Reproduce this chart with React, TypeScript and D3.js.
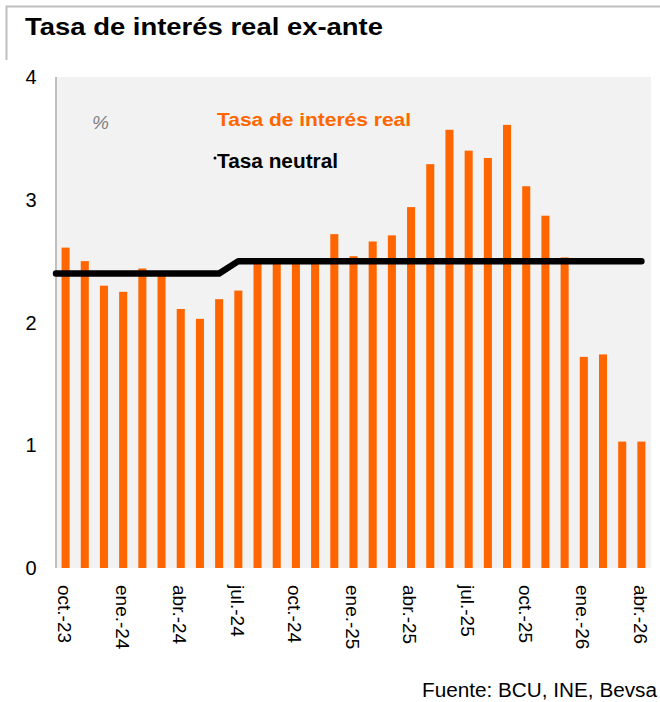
import React from "react";
import * as d3 from "d3";

const months = [
  "oct.-23","nov.-23","dic.-23","ene.-24","feb.-24","mar.-24","abr.-24","may.-24","jun.-24",
  "jul.-24","ago.-24","sep.-24","oct.-24","nov.-24","dic.-24","ene.-25","feb.-25","mar.-25",
  "abr.-25","may.-25","jun.-25","jul.-25","ago.-25","sep.-25","oct.-25","nov.-25","dic.-25",
  "ene.-26","feb.-26","mar.-26","abr.-26"
];
const realRate = [
  2.61, 2.50, 2.30, 2.25, 2.44, 2.38, 2.11, 2.03, 2.19,
  2.26, 2.49, 2.49, 2.49, 2.49, 2.72, 2.54, 2.66, 2.71,
  2.94, 3.29, 3.57, 3.40, 3.34, 3.61, 3.11, 2.87, 2.53,
  1.72, 1.74, 1.03, 1.03
];
const neutralRate = [
  2.4, 2.4, 2.4, 2.4, 2.4, 2.4, 2.4, 2.4, 2.4,
  2.5, 2.5, 2.5, 2.5, 2.5, 2.5, 2.5, 2.5, 2.5,
  2.5, 2.5, 2.5, 2.5, 2.5, 2.5, 2.5, 2.5, 2.5,
  2.5, 2.5, 2.5, 2.5
];
const yTicks = [0, 1, 2, 3, 4];
const xLabelEvery = 3;

const FONT = "'Liberation Sans', Arial, sans-serif";

export default function App() {
  const W = 660, H = 702;
  const left = 56, right = 651, top = 77, bottom = 568;
  const x = d3.scaleBand<string>().domain(months).range([left, right]).paddingInner(0.58).paddingOuter(0.29);
  const y = d3.scaleLinear().domain([0, 4]).range([bottom, top]);
  const bw = x.bandwidth();
  const cx = (m: string) => (x(m) as number) + bw / 2;

  const linePts: [number, number][] = neutralRate.map((v, i) => [i === 0 ? left : cx(months[i]), y(v)]);
  const line = d3.line()(linePts) as string;

  return (
    <svg width={W} height={H} style={{ display: "block", position: "absolute", left: 0, top: 0 }} fontFamily={FONT}>
      <rect x={0} y={0} width={W} height={H} fill="#ffffff" />
      {/* title frame */}
      <path d={`M6.5,60 L6.5,6.5 L${W},6.5`} fill="none" stroke="#bfbfbf" strokeWidth={2} />
      <text x={25} y={35} fontSize={24} fontWeight="bold" fill="#000" textLength={358} lengthAdjust="spacingAndGlyphs">Tasa de interés real ex-ante</text>

      {/* plot bg */}
      <rect x={left} y={top} width={right - left} height={bottom - top} fill="#f2f2f2" />
      <line x1={left} x2={left} y1={top} y2={bottom} stroke="#bfbfbf" strokeWidth={2} />

      {/* y ticks */}
      {yTicks.map((t) => (
        <text key={t} x={31} y={y(t)} dy="0.36em" textAnchor="middle" fontSize={20} fill="#000">{t}</text>
      ))}

      {/* bars */}
      {realRate.map((v, i) => (
        <rect key={i} x={x(months[i])} y={y(v)} width={bw} height={y(0) - y(v)} fill="#ff6600" />
      ))}

      {/* neutral line */}
      <path d={line} fill="none" stroke="#000" strokeWidth={6.5} strokeLinejoin="round" strokeLinecap="round" />

      {/* x labels */}
      {months.map((m, i) =>
        i % xLabelEvery === 0 ? (
          <text key={m} transform={`translate(${cx(m) - 1},${585}) rotate(90)`} x={0} y={0} dy="0.35em" fontSize={19} fill="#000">{m}</text>
        ) : null
      )}

      {/* legend & unit */}
      <text x={92} y={129} fontSize={19} fontStyle="italic" fill="#7f7f7f">%</text>
      <text x={217} y={126} fontSize={19} fontWeight="bold" fill="#ff6600" textLength={194} lengthAdjust="spacingAndGlyphs">Tasa de interés real</text>
      <circle cx={215} cy={158} r={1.5} fill="#000" />
      <text x={217} y={168} fontSize={20} fontWeight="bold" fill="#000" textLength={121} lengthAdjust="spacingAndGlyphs">Tasa neutral</text>

      <text x={422} y={697} fontSize={20} fill="#000" textLength={235} lengthAdjust="spacingAndGlyphs">Fuente: BCU, INE, Bevsa</text>
    </svg>
  );
}
